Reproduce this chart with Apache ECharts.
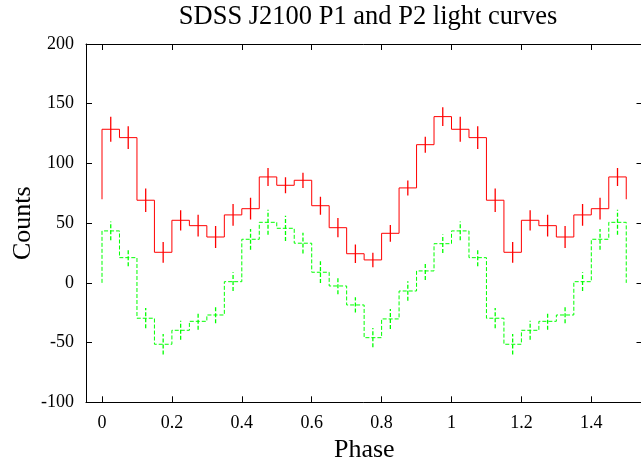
<!DOCTYPE html>
<html>
<head>
<meta charset="utf-8">
<script src="https://cdn.jsdelivr.net/npm/echarts@6/dist/echarts.min.js"></script>
<style>
  html, body { margin: 0; padding: 0; background: #ffffff; }
  #chart { width: 641px; height: 460px; }
</style>
</head>
<body>
<div id="chart"></div>
<script>
// Phase bin centres (bin width 0.05), covering 1.5 cycles
const phase = [
  0.025, 0.075, 0.125, 0.175, 0.225, 0.275, 0.325, 0.375, 0.425, 0.475,
  0.525, 0.575, 0.625, 0.675, 0.725, 0.775, 0.825, 0.875, 0.925, 0.975,
  1.025, 1.075, 1.125, 1.175, 1.225, 1.275, 1.325, 1.375, 1.425, 1.475
];
const binWidth = 0.05;

// P1 light curve (drawn offset, histogram baseline at 70)
const p1Counts = [
  128.6, 121.6, 69.2, 25.6, 52.4, 47.9, 38.4, 56.9, 62.1, 88.7,
  81.7, 85.9, 64.6, 46.2, 24.4, 19.2, 41.5, 79.5, 115.7, 139.2,
  128.6, 121.6, 69.2, 25.6, 52.4, 47.9, 38.4, 56.9, 62.1, 88.7
];
const p1Err = [
  10.5, 9.6, 9.9, 8.7, 8.5, 9.1, 9.3, 9.1, 9.1, 7.5,
  6.7, 6.4, 7.5, 8.1, 7.8, 6.1, 7.0, 6.3, 6.7, 7.8,
  10.5, 9.6, 9.9, 8.7, 8.5, 9.1, 9.3, 9.1, 9.1, 7.5
];
const p1Base = 70;

// P2 light curve (histogram baseline at 0)
const p2Counts = [
  43.5, 21.1, -29.6, -51.4, -39.7, -32.2, -26.9, 1.0, 36.5, 50.7,
  45.7, 33.2, 8.9, -2.6, -18.5, -45.9, -30.2, -6.8, 10.0, 32.8,
  43.5, 21.1, -29.6, -51.4, -39.7, -32.2, -26.9, 1.0, 36.5, 50.7
];
const p2Err = [
  7.8, 7.1, 8.5, 8.5, 8.0, 7.1, 7.0, 7.8, 8.7, 10.5,
  10.6, 8.7, 9.1, 7.0, 6.4, 8.1, 8.4, 8.1, 7.5, 7.8,
  7.8, 7.1, 8.5, 8.5, 8.0, 7.1, 7.0, 7.8, 8.7, 10.5
];
const p2Base = 0;

// Axis ticks
const xTicks = [0, 0.2, 0.4, 0.6, 0.8, 1, 1.2, 1.4];
const yTicks = [-100, -50, 0, 50, 100, 150, 200];

const SERIF = '"Liberation Serif", "DejaVu Serif", serif';

// Histogram-step outline: each bin drawn flat across its full width
function histSteps(centers, values, base) {
  const half = binWidth / 2;
  const pts = [[centers[0] - half, base]];
  centers.forEach((c, i) => {
    pts.push([c - half, values[i]]);
    pts.push([c + half, values[i]]);
  });
  pts.push([centers[centers.length - 1] + half, base]);
  return pts;
}

function errorData(centers, values, errs) {
  return centers.map((c, i) => [c, values[i] - errs[i], values[i] + errs[i]]);
}

function errorSeries(data, color, dash) {
  return {
    type: 'custom',
    data: data,
    encode: { x: 0, y: [1, 2] },
    clip: true,
    z: 3,
    renderItem: function (params, api) {
      const lo = api.coord([api.value(0), api.value(1)]);
      const hi = api.coord([api.value(0), api.value(2)]);
      return {
        type: 'line',
        shape: { x1: lo[0], y1: lo[1], x2: hi[0], y2: hi[1] },
        style: { stroke: color, lineWidth: 1.3, lineDash: dash }
      };
    }
  };
}

const frameLine = { show: true, onZero: false, lineStyle: { color: '#000000', width: 1 } };
const innerTick = { show: true, inside: true, length: 6, lineStyle: { color: '#000000', width: 1 } };

const chart = echarts.init(document.getElementById('chart'), null, { renderer: 'canvas' });

chart.setOption({
  animation: false,
  backgroundColor: '#ffffff',
  grid: {
    left: 86, top: 44, right: -1.5, bottom: 57.7,
    containLabel: false,
    outerBoundsMode: 'none'
  },
  graphic: [{
    type: 'text',
    x: 368, y: 17,
    style: {
      text: 'SDSS J2100 P1 and P2 light curves',
      font: '26.5px ' + SERIF,
      fill: '#000000',
      textAlign: 'center',
      textVerticalAlign: 'middle'
    }
  }],
  xAxis: [{
    type: 'value',
    position: 'bottom',
    min: -0.0458, max: 1.5465,
    name: 'Phase',
    nameLocation: 'middle',
    nameGap: 35,
    nameMoveOverlap: false,
    nameTextStyle: { fontFamily: SERIF, fontSize: 26, color: '#000000' },
    axisLine: frameLine,
    axisTick: Object.assign({ customValues: xTicks }, innerTick),
    axisLabel: {
      customValues: xTicks,
      margin: 12,
      fontFamily: SERIF, fontSize: 18, color: '#000000'
    },
    splitLine: { show: false }
  }, {
    type: 'value',
    position: 'top',
    min: -0.0458, max: 1.5465,
    axisLine: frameLine,
    axisTick: Object.assign({ customValues: xTicks }, innerTick),
    axisLabel: { show: false },
    splitLine: { show: false }
  }],
  yAxis: [{
    type: 'value',
    position: 'left',
    min: -100, max: 200, interval: 50,
    name: 'Counts',
    nameLocation: 'middle',
    nameGap: 50,
    nameMoveOverlap: false,
    nameRotate: 90,
    nameTextStyle: { fontFamily: SERIF, fontSize: 26, color: '#000000' },
    axisLine: frameLine,
    axisTick: Object.assign({ customValues: yTicks }, innerTick),
    axisLabel: {
      customValues: yTicks,
      margin: 12,
      fontFamily: SERIF, fontSize: 18, color: '#000000'
    },
    splitLine: { show: false }
  }, {
    type: 'value',
    position: 'right',
    min: -100, max: 200, interval: 50,
    axisLine: frameLine,
    axisTick: Object.assign({ customValues: yTicks }, innerTick),
    axisLabel: { show: false },
    splitLine: { show: false }
  }],
  series: [{
    name: 'P1',
    type: 'line',
    data: histSteps(phase, p1Counts, p1Base),
    showSymbol: false,
    symbol: 'none',
    clip: true,
    lineStyle: { color: '#ff0000', width: 1 },
    z: 2
  },
  errorSeries(errorData(phase, p1Counts, p1Err), '#ff0000', null),
  {
    name: 'P2',
    type: 'line',
    data: histSteps(phase, p2Counts, p2Base),
    showSymbol: false,
    symbol: 'none',
    clip: true,
    lineStyle: { color: '#00ff00', width: 1, type: [4, 2] },
    z: 2
  },
  errorSeries(errorData(phase, p2Counts, p2Err), '#00ff00', [4, 2])
  ]
});
</script>
</body>
</html>
